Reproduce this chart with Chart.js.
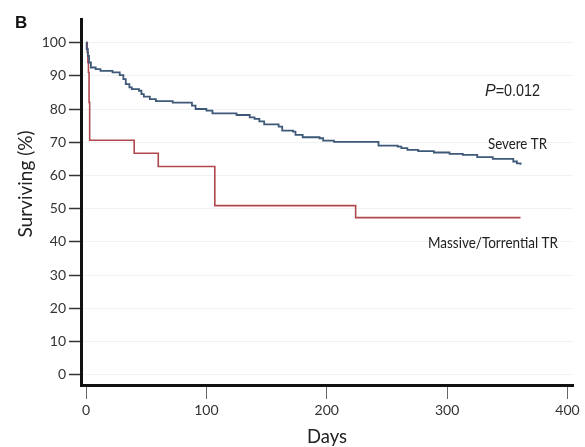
<!DOCTYPE html>
<html>
<head>
<meta charset="utf-8">
<title>Survival curves</title>
<script src="https://cdn.jsdelivr.net/npm/chart.js@4/dist/chart.umd.min.js"></script>
<style>
  html, body { margin: 0; padding: 0; background: #fff; }
  canvas { display: block; }
</style>
</head>
<body>
<canvas id="survChart" width="585" height="447"></canvas>
<script>
// Kaplan-Meier steps: day of the drop and survival (%) after it
var severeDays = [0, 0.5, 1.5, 2.5, 4, 8, 12, 22, 28, 31, 33, 36, 38, 44, 46, 48, 53, 58, 72, 88, 91, 100, 105, 125, 136, 140, 144, 148, 160, 163, 172, 174, 180, 194, 197, 206, 243, 259, 262, 267, 276, 289, 302, 313, 325, 338, 355, 358, 361];
var severeSurv = [100, 98, 96, 94, 92.5, 92, 91.5, 91.0, 90.2, 89, 87.5, 86.5, 86.0, 85.5, 84.5, 83.7, 83.0, 82.4, 81.9, 81.0, 80.0, 79.5, 78.7, 78.2, 77.5, 77.0, 76.3, 75.4, 74.7, 73.5, 73.2, 72.2, 71.5, 71.2, 70.5, 70.1, 69.0, 68.7, 68.2, 67.7, 67.3, 66.9, 66.5, 66.2, 65.5, 65.0, 64.2, 63.6, 63.2];

var massiveDays = [0, 1, 1.5, 2, 2.5, 3, 40, 60, 107, 224, 361];
var massiveSurv = [100, 97, 94, 91, 82, 70.6, 66.7, 62.7, 50.9, 47.3, 47.3];

var xTicks = [0, 100, 200, 300, 400];
var yTicks = [0, 10, 20, 30, 40, 50, 60, 70, 80, 90, 100];

var seriesNames = ["Severe TR", "Massive/Torrential TR"];
var pValue = "0.012";

function toPoints(days, surv) {
    var pts = [];
    for (var i = 0; i < days.length; i++) {
        pts.push({ x: days[i], y: surv[i] });
    }
    return pts;
}

var fontFam = "Lato, 'Open Sans', sans-serif";

// extra labels: panel letter, axis titles, p-value and curve names
var annotations = {
    id: "annotations",
    afterDraw: function (chart) {
        var ctx = chart.ctx;
        var area = chart.chartArea;
        ctx.save();
        ctx.fillStyle = "#111";
        ctx.textBaseline = "alphabetic";

        ctx.font = "bold 17px 'Liberation Sans', Arial, sans-serif";
        ctx.textAlign = "left";
        ctx.fillText("B", 15, 28);

        ctx.fillStyle = "#222";
        ctx.font = "19px " + fontFam;
        ctx.textAlign = "center";
        ctx.fillText("Days", (area.left + area.right) / 2, 443, 40);

        ctx.save();
        ctx.translate(32, 184);
        ctx.rotate(-Math.PI / 2);
        ctx.fillText("Surviving (%)", 0, 0, 134);
        ctx.restore();

        ctx.textAlign = "left";
        ctx.font = "italic 16px 'Liberation Sans', Arial, sans-serif";
        ctx.fillText("P", 485, 96);
        var pw = ctx.measureText("P").width;
        ctx.font = "16px 'Liberation Sans', Arial, sans-serif";
        ctx.fillText("=" + pValue, 485 + pw, 96, 55 - pw);

        ctx.font = "16px " + fontFam;
        ctx.fillText(seriesNames[0], 488, 149, 59);
        ctx.fillText(seriesNames[1], 428, 248, 130);
        ctx.restore();
    }
};

new Chart(document.getElementById("survChart").getContext("2d"), {
    type: "scatter",
    data: {
        datasets: [{
            label: seriesNames[0],
            data: toPoints(severeDays, severeSurv),
            showLine: true,
            stepped: "before",
            borderColor: "#3e5878",
            borderWidth: 1.8,
            pointRadius: 0,
            fill: false
        }, {
            label: seriesNames[1],
            data: toPoints(massiveDays, massiveSurv),
            showLine: true,
            stepped: "before",
            borderColor: "#b0484d",
            borderWidth: 1.6,
            pointRadius: 0,
            fill: false
        }]
    },
    options: {
        responsive: false,
        animation: false,
        devicePixelRatio: 1,
        layout: { padding: { top: 19, right: 12, bottom: 0, left: 0 } },
        plugins: {
            legend: { display: false },
            tooltip: { enabled: false }
        },
        scales: {
            x: {
                type: "linear",
                min: -4.2,
                max: 404.6,
                afterBuildTicks: function (scale) {
                    scale.ticks = xTicks.map(function (v) { return { value: v }; });
                },
                afterFit: function (scale) { scale.height = 62; },
                grid: {
                    drawOnChartArea: false,
                    tickLength: 14,
                    tickColor: "#666",
                    tickWidth: 1
                },
                border: { display: true, color: "#111", width: 3 },
                ticks: {
                    color: "#333",
                    padding: 3,
                    maxRotation: 0,
                    font: { family: fontFam, size: 14 }
                }
            },
            y: {
                min: -3.1,
                max: 107.1,
                afterBuildTicks: function (scale) {
                    scale.ticks = yTicks.map(function (v) { return { value: v }; });
                },
                afterFit: function (scale) { scale.width = 81; },
                grid: {
                    color: "#edf2f2",
                    lineWidth: 1,
                    tickLength: 12,
                    tickColor: "#333",
                    tickWidth: 1.5
                },
                border: { display: true, color: "#111", width: 3 },
                ticks: {
                    color: "#333",
                    padding: 3,
                    font: { family: fontFam, size: 14 }
                }
            }
        }
    },
    plugins: [annotations]
});
</script>
</body>
</html>
